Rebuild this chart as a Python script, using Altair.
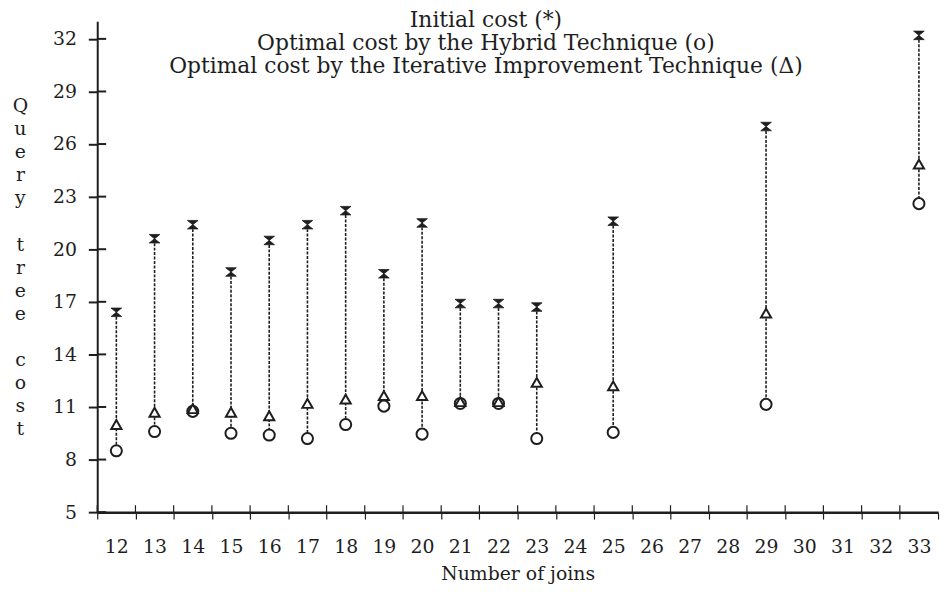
import altair as alt
import pandas as pd

# ---- data ----
JOINS = [12, 13, 14, 15, 16, 17, 18, 19, 20, 21, 22, 23, 25, 29, 33]
INITIAL = [16.4, 20.6, 21.4, 18.7, 20.5, 21.4, 22.2, 18.6, 21.5, 16.9, 16.9, 16.7, 21.6, 27.0, 32.2]
ITERATIVE = [10.0, 10.7, 10.9, 10.7, 10.5, 11.2, 11.45, 11.65, 11.65, 11.3, 11.3, 12.4, 12.2, 16.35, 24.85]
HYBRID = [8.5, 9.6, 10.75, 9.5, 9.4, 9.2, 10.0, 11.05, 9.45, 11.2, 11.2, 9.2, 9.55, 11.15, 22.6]

JOIN_TICKS = [12, 13, 14, 15, 16, 17, 18, 19, 20, 21, 22, 23, 24, 25, 26, 27, 28, 29, 30, 31, 32, 33]
COST_TICKS = [5, 8, 11, 14, 17, 20, 23, 26, 29, 32]
LEGEND_LINES = [
    "Initial cost (*)",
    "Optimal cost by the Hybrid Technique (o)",
    "Optimal cost by the Iterative Improvement Technique (\u0394)",
]
Y_TITLE = ["Q", "u", "e", "r", "y", "\u200b", "t", "r", "e", "e", "\u200b", "c", "o", "s", "t"]
X_TITLE = "Number of joins"

df = pd.DataFrame({"joins": JOINS, "initial": INITIAL, "iterative": ITERATIVE, "hybrid": HYBRID})
xticks_df = pd.DataFrame({"joins": JOIN_TICKS})
yticks_df = pd.DataFrame({"initial": COST_TICKS})

FONT = "DejaVu Serif"
INK = "#1e1e1e"
HOURGLASS = "M-1,-0.8L1,-0.8L-1,0.8L1,0.8Z"
W, H = 848, 495

x_scale = alt.Scale(type="band", domain=JOIN_TICKS, paddingInner=0, paddingOuter=0)
y_scale = alt.Scale(domain=[5, 33], nice=False, zero=False)

x_axis = alt.Axis(
    values=JOIN_TICKS, tickBand="extent", labelAngle=0, grid=False,
    title=X_TITLE, titleFont=FONT, titleFontSize=19, titleFontWeight="normal",
    titleColor=INK, titlePadding=8,
    labelFont=FONT, labelFontSize=19, labelColor=INK, labelPadding=19,
    tickSize=7, tickColor=INK, tickWidth=1.2,
    domainColor=INK, domainWidth=2.5,
)
y_axis = alt.Axis(
    values=COST_TICKS, grid=False,
    title=Y_TITLE, titleAngle=0, titleFont=FONT, titleFontSize=19,
    titleFontWeight="normal", titleColor=INK, titleLineHeight=23.3,
    titleAlign="center", titleBaseline="alphabetic", titleX=-78, titleY=91,
    labelFont=FONT, labelFontSize=19, labelColor=INK, labelPadding=12,
    tickSize=9, tickColor=INK, tickWidth=2,
    domainColor=INK, domainWidth=2,
)

X = alt.X("joins:O", scale=x_scale, axis=x_axis)

base = alt.Chart(df)

rules = base.mark_rule(color=INK, strokeWidth=1.6, strokeDash=[3, 1.5]).encode(
    x=X,
    y=alt.Y("initial:Q", scale=y_scale, axis=y_axis),
    y2="hybrid:Q",
)

# inward halves of the crossing axis ticks
x_in_ticks = alt.Chart(xticks_df).mark_rule(color=INK, strokeWidth=1.2).encode(
    x=alt.X("joins:O", scale=x_scale, axis=x_axis, bandPosition=0),
    y=alt.value(H - 7), y2=alt.value(H),
)
y_in_ticks = alt.Chart(yticks_df).mark_rule(color=INK, strokeWidth=2).encode(
    y=alt.Y("initial:Q", scale=y_scale, axis=y_axis),
    x=alt.value(0), x2=alt.value(9),
)

initial_pts = base.mark_point(
    shape=HOURGLASS, filled=True, fill=INK, stroke=INK, strokeWidth=0.8,
    size=115, opacity=1
).encode(
    x=X,
    y=alt.Y("initial:Q", scale=y_scale, axis=y_axis),
)

hybrid_pts = base.mark_point(
    shape="circle", fill="white", fillOpacity=1, stroke=INK, strokeWidth=2, size=125, opacity=1
).encode(
    x=X,
    y=alt.Y("hybrid:Q", scale=y_scale, axis=y_axis),
)

iter_pts = base.mark_point(
    shape="triangle-up", fill="white", fillOpacity=1, stroke=INK, strokeWidth=2, size=105, opacity=1
).encode(
    x=X,
    y=alt.Y("iterative:Q", scale=y_scale, axis=y_axis),
)

legend = alt.Chart(pd.DataFrame({"k": [0]})).mark_text(
    align="center", baseline="alphabetic", font=FONT, fontSize=22,
    lineHeight=23, color=INK,
).encode(
    x=alt.value(392), y=alt.value(6), text=alt.value(LEGEND_LINES)
)

chart = alt.layer(
    rules, x_in_ticks, y_in_ticks, initial_pts, hybrid_pts, iter_pts, legend
).properties(
    width=W, height=H,
    autosize=alt.AutoSizeParams(type="none"),
    padding={"left": 90, "top": 11, "right": 4, "bottom": 70},
    background="white",
).configure_view(stroke=None)

chart.save("out.html", embed_options={"renderer": "svg", "actions": False})
